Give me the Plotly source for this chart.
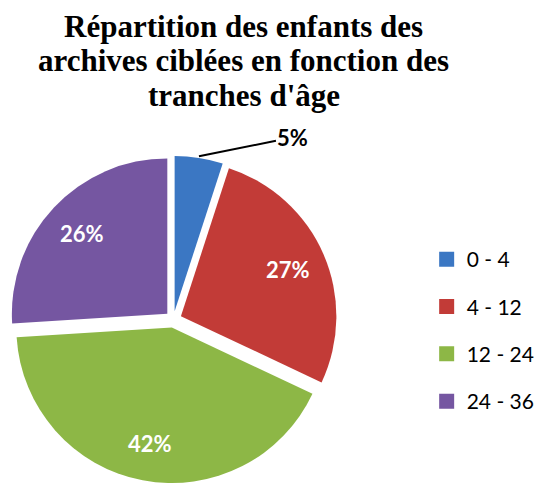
import math
import plotly.graph_objects as go

# tranches d'âge (mois) et parts en %
tranches = ['0 - 4', '4 - 12', '12 - 24', '24 - 36']
parts = [5, 27, 42, 26]
couleurs = ['#3B77C3', '#C23B37', '#8DB746', '#7556A1']
titre = ['Répartition des enfants des',
         'archives ciblées en fonction des',
         "tranches d'âge"]

W, H = 540, 487
pull = 0.053
dom_x = [0.018, 0.630]
dom_y = [0.0045, 0.6834]

fig = go.Figure()
fig.add_trace(go.Pie(labels=tranches, values=parts,
                     sort=False, direction='clockwise', rotation=0,
                     pull=[pull] * len(parts),
                     marker=dict(colors=couleurs, line=dict(width=0)),
                     textinfo='none', showlegend=False,
                     domain=dict(x=dom_x, y=dom_y),
                     hoverinfo='label+percent'))

# légende : un carré par tranche
for t, c in zip(tranches, couleurs):
    fig.add_trace(go.Scatter(x=[None], y=[None], mode='markers', name=t,
                             legendgroup=t,
                             marker=dict(symbol='square', size=15, color=c)))

# géométrie du camembert (pour placer les étiquettes)
cx = (dom_x[0] + dom_x[1]) / 2 * W
cy = (1 - (dom_y[0] + dom_y[1]) / 2) * H
R = min((dom_x[1] - dom_x[0]) * W, (dom_y[1] - dom_y[0]) * H) / 2 / (1 + pull)

total = sum(parts)
cumul = 0
for i, v in enumerate(parts):
    mid = (cumul + v / 2) / total * 2 * math.pi
    cumul += v
    txt = '<b>%d%%</b>' % round(v / total * 100)
    if i == 0:
        r = R * (1 + pull)
        px_, py_ = cx + r * math.sin(mid), cy - r * math.cos(mid)
        fig.add_annotation(x=px_ / W, y=1 - py_ / H, xref='paper', yref='paper',
                           text=txt, showarrow=True, arrowhead=0, arrowwidth=2,
                           arrowcolor='black', ax=94, ay=-19,
                           xanchor='center', yanchor='middle',
                           font=dict(family='Lato', size=22, color='black'))
    else:
        r = R * (0.75 + pull)
        px_, py_ = cx + r * math.sin(mid), cy - r * math.cos(mid)
        fig.add_annotation(x=px_ / W, y=1 - py_ / H, xref='paper', yref='paper',
                           text=txt, showarrow=False,
                           xanchor='center', yanchor='middle',
                           font=dict(family='Lato', size=22, color='white'))

# titre sur trois lignes, interligne serré
for k, ligne in enumerate(titre):
    fig.add_annotation(x=0.4556, y=1 - (26 + 34.5 * k) / H, xref='paper', yref='paper',
                       text='<b>%s</b>' % ligne, showarrow=False,
                       xanchor='center', yanchor='middle',
                       font=dict(family='Liberation Serif', size=31, color='black'))

fig.update_layout(
    width=W, height=H,
    margin=dict(l=0, r=0, t=0, b=0),
    paper_bgcolor='white', plot_bgcolor='white',
    xaxis=dict(visible=False), yaxis=dict(visible=False),
    legend=dict(x=0.7975, y=0.509, xanchor='left', yanchor='top',
                tracegroupgap=17, font=dict(family='Lato', size=21, color='black'),
                itemclick=False),
    showlegend=True,
)

fig.write_html('out.html', config={'displayModeBar': False},
               post_script="document.body.style.margin='0';")
